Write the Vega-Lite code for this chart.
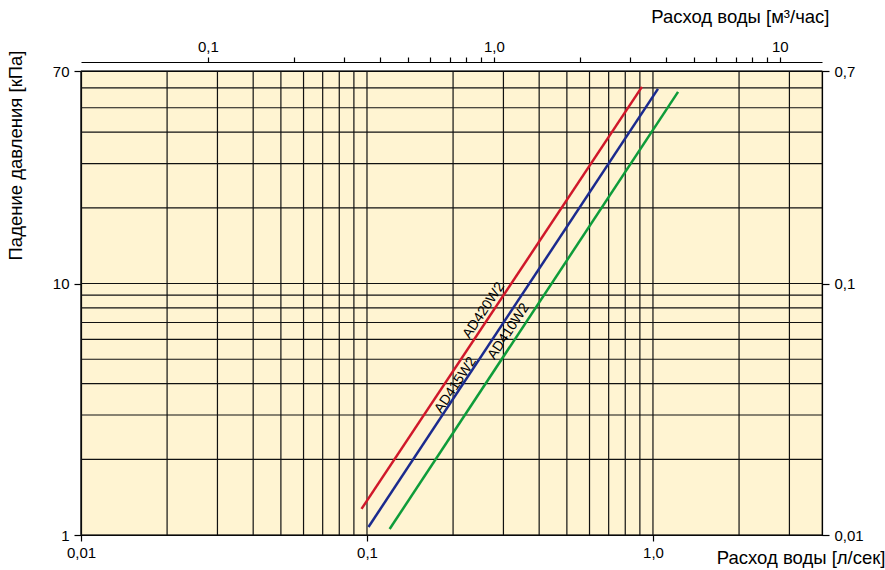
{
  "$schema": "https://vega.github.io/schema/vega-lite/v6.json",
  "width": 741,
  "height": 464,
  "autosize": {"type": "none"},
  "padding": {"left": 81, "top": 71, "right": 63, "bottom": 35},
  "background": "white",
  "config": {
    "font": "Liberation Sans",
    "view": {"stroke": "black", "strokeWidth": 1.2, "fill": "#FFF4D2"},
    "axis": {
      "labelFont": "Liberation Sans",
      "labelFontSize": 15,
      "labelColor": "black",
      "titleFont": "Liberation Sans",
      "titleFontSize": 18.5,
      "titleFontWeight": "normal",
      "titleColor": "black",
      "domainColor": "black",
      "domainWidth": 1.2,
      "tickColor": "black",
      "tickWidth": 1.2,
      "grid": false
    }
  },
  "datasets": {
    "gx": [
      {"v": 0.01}, {"v": 0.02}, {"v": 0.03}, {"v": 0.04}, {"v": 0.05}, {"v": 0.06}, {"v": 0.07}, {"v": 0.08}, {"v": 0.09},
      {"v": 0.1}, {"v": 0.2}, {"v": 0.3}, {"v": 0.4}, {"v": 0.5}, {"v": 0.6}, {"v": 0.7}, {"v": 0.8}, {"v": 0.9},
      {"v": 1}, {"v": 2}, {"v": 3}
    ],
    "gy": [
      {"v": 1}, {"v": 2}, {"v": 3}, {"v": 4}, {"v": 5}, {"v": 6}, {"v": 7}, {"v": 8}, {"v": 9},
      {"v": 10}, {"v": 20}, {"v": 30}, {"v": 40}, {"v": 50}, {"v": 60}, {"v": 70}
    ],
    "curves": [
      {"series": "AD420W2", "flow": 0.0957, "dp": 1.27},
      {"series": "AD420W2", "flow": 0.915, "dp": 60.5},
      {"series": "AD415W2", "flow": 0.1012, "dp": 1.076},
      {"series": "AD415W2", "flow": 1.041, "dp": 59.4},
      {"series": "AD410W2", "flow": 0.12, "dp": 1.056},
      {"series": "AD410W2", "flow": 1.224, "dp": 57.8}
    ],
    "labels": [
      {"series": "AD420W2", "flow": 0.256, "dp": 7.81},
      {"series": "AD415W2", "flow": 0.204, "dp": 3.94},
      {"series": "AD410W2", "flow": 0.313, "dp": 6.45}
    ],
    "top": [{"q": 0.1}, {"q": 1}, {"q": 10}],
    "right": [{"p": 0.01}, {"p": 0.1}, {"p": 0.7}]
  },
  "layer": [
    {
      "layer": [
        {
          "data": {"name": "gx"},
          "mark": {"type": "rule", "color": "#111111", "strokeWidth": 1.2},
          "encoding": {
            "x": {
              "field": "v", "type": "quantitative",
              "scale": {"type": "log", "domain": [0.01, 3.9], "nice": false},
              "axis": {
                "orient": "bottom",
                "values": [0.01, 0.1, 1],
                "labelExpr": "datum.value < 0.05 ? '0,01' : datum.value < 0.5 ? '0,1' : '1,0'",
                "tickSize": 6,
                "labelPadding": 4,
                "labelFlush": false,
                "labelOverlap": false,
                "title": "Расход воды [л/сек]",
                "titleX": 804,
                "titleY": 28,
                "titleAlign": "right",
                "titleBaseline": "alphabetic"
              }
            }
          }
        },
        {
          "data": {"name": "gy"},
          "mark": {"type": "rule", "color": "#111111", "strokeWidth": 1.2},
          "encoding": {
            "y": {
              "field": "v", "type": "quantitative",
              "scale": {"type": "log", "domain": [1, 70], "nice": false},
              "axis": {
                "orient": "left",
                "values": [1, 10, 70],
                "labelExpr": "format(datum.value, 'd')",
                "tickSize": 7,
                "labelPadding": 5,
                "labelFlush": false,
                "labelOverlap": false,
                "title": "Падение давления [кПа]",
                "titleAngle": -90,
                "titleX": -66,
                "titleY": 84,
                "titleAlign": "center",
                "titleBaseline": "middle"
              }
            }
          }
        },
        {
          "data": {"name": "curves"},
          "mark": {"type": "line", "strokeWidth": 2.5},
          "encoding": {
            "x": {"field": "flow", "type": "quantitative"},
            "y": {"field": "dp", "type": "quantitative"},
            "color": {
              "field": "series", "type": "nominal",
              "scale": {"domain": ["AD420W2", "AD415W2", "AD410W2"], "range": ["#D0182A", "#1B2A8E", "#0E9C3A"]},
              "legend": null
            },
            "order": {"field": "flow", "type": "quantitative"}
          }
        },
        {
          "data": {"name": "labels"},
          "mark": {"type": "text", "angle": 303.5, "fontSize": 14, "font": "Liberation Sans", "color": "black", "align": "center", "baseline": "middle"},
          "encoding": {
            "x": {"field": "flow", "type": "quantitative"},
            "y": {"field": "dp", "type": "quantitative"},
            "text": {"field": "series"}
          }
        }
      ]
    },
    {
      "data": {"name": "top"},
      "mark": {"type": "point", "opacity": 0},
      "encoding": {
        "x": {
          "field": "q", "type": "quantitative",
          "scale": {"type": "log", "domain": [0.036, 14.04], "nice": false},
          "axis": {
            "orient": "top",
            "offset": 9,
            "values": [0.1, 0.2, 0.3, 0.4, 0.5, 0.6, 0.7, 0.8, 0.9, 1, 2, 3, 4, 5, 6, 7, 8, 9, 10],
            "labelExpr": "datum.value == 0.1 ? '0,1' : datum.value == 1 ? '1,0' : datum.value == 10 ? '10' : ''",
            "tickSize": 5,
            "labelPadding": 3,
            "labelFlush": false,
            "labelOverlap": false,
            "title": "Расход воды [м³/час]",
            "titleX": 748,
            "titleY": -40,
            "titleAlign": "right",
            "titleBaseline": "alphabetic"
          }
        }
      }
    },
    {
      "data": {"name": "right"},
      "mark": {"type": "point", "opacity": 0},
      "encoding": {
        "y": {
          "field": "p", "type": "quantitative",
          "scale": {"type": "log", "domain": [0.01, 0.7], "nice": false},
          "axis": {
            "orient": "right",
            "values": [0.01, 0.1, 0.7],
            "labelExpr": "datum.value < 0.05 ? '0,01' : datum.value < 0.5 ? '0,1' : '0,7'",
            "tickSize": 7,
            "labelPadding": 5,
            "labelFlush": false,
            "labelOverlap": false,
            "title": null
          }
        }
      }
    }
  ],
  "resolve": {"scale": {"x": "independent", "y": "independent"}}
}
